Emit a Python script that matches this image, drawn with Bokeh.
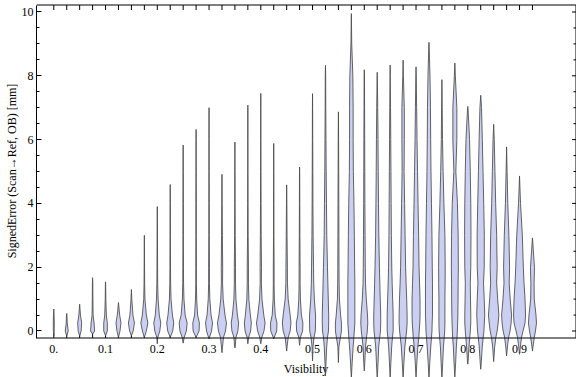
from bokeh.plotting import figure
from bokeh.models import FixedTicker, Range1d, Span
from bokeh.core.properties import value
from bokeh.embed import file_html
from bokeh.resources import INLINE

# ---------------- data ----------------
visibility = [0.0, 0.025, 0.05, 0.075, 0.1, 0.125, 0.15, 0.175, 0.2, 0.225,
              0.25, 0.275, 0.3, 0.325, 0.35, 0.375, 0.4, 0.425, 0.45, 0.475,
              0.5, 0.525, 0.55, 0.575, 0.6, 0.625, 0.65, 0.675, 0.7, 0.725,
              0.75, 0.775, 0.8, 0.825, 0.85, 0.875, 0.9, 0.925]
err_max = [0.69, 0.55, 0.84, 1.67, 1.54, 0.89, 1.30, 3.0, 3.90, 4.59,
           5.83, 6.32, 7.0, 4.91, 5.92, 7.08, 7.45, 5.88, 4.58, 5.14,
           7.44, 8.33, 6.87, 9.95, 8.19, 8.11, 8.34, 8.49, 8.28, 9.05,
           7.88, 8.40, 7.04, 7.39, 6.48, 5.77, 4.86, 2.92]
err_min = [-0.15, -0.15, -0.15, -0.1, -0.15, -0.2, -0.15, -0.2, -0.4, -0.2,
           -0.38, -0.2, -0.25, -0.68, -0.53, -0.4, -0.4, -0.25, -0.63, -0.45,
           -0.94, -1.41, -0.99, -1.5, -1.25, -1.5, -1.5, -1.5, -1.45, -1.5,
           -1.5, -1.44, -1.04, -1.2, -0.96, -0.78, -0.73, -0.63]
# error levels at which the density (violin half-width) was read
levels = [-1.0, -0.5, -0.2, 0.0, 0.25, 0.5, 1.0, 1.5, 2.0, 3.0, 4.0, 5.0, 6.0, 7.0, 8.0, 9.0]
density = [
    [0, 0, 0, 0.4, 0.5, 0.3, 0, 0, 0, 0, 0, 0, 0, 0, 0, 0],
    [0, 0, 0, 1.5, 0.5, 0.2, 0, 0, 0, 0, 0, 0, 0, 0, 0, 0],
    [0, 0, 0, 1.5, 2.0, 0.8, 0, 0, 0, 0, 0, 0, 0, 0, 0, 0],
    [0, 0, 0, 2.0, 1.5, 0.5, 0.3, 0.2, 0, 0, 0, 0, 0, 0, 0, 0],
    [0, 0, 0, 1.8, 1.8, 0.8, 0.3, 0.1, 0, 0, 0, 0, 0, 0, 0, 0],
    [0, 0, 0.3, 1.5, 2.5, 1.2, 0, 0, 0, 0, 0, 0, 0, 0, 0, 0],
    [0, 0, 0, 1.8, 3.0, 1.5, 0.4, 0, 0, 0, 0, 0, 0, 0, 0, 0],
    [0, 0, 0.3, 2.0, 3.5, 2.0, 0.6, 0.3, 0.2, 0, 0, 0, 0, 0, 0, 0],
    [0, 0, 0.5, 2.5, 3.5, 2.0, 0.8, 0.4, 0.3, 0.2, 0, 0, 0, 0, 0, 0],
    [0, 0, 0.3, 2.5, 3.5, 2.2, 0.8, 0.4, 0.3, 0.2, 0.1, 0, 0, 0, 0, 0],
    [0, 0, 1.0, 3.2, 4.0, 2.0, 0.8, 0.4, 0.3, 0.2, 0.2, 0.1, 0, 0, 0, 0],
    [0, 0, 0.5, 3.0, 3.3, 1.5, 0.6, 0.3, 0.3, 0.2, 0.2, 0.1, 0.1, 0, 0, 0],
    [0, 0, 0.5, 2.5, 3.5, 2.0, 0.8, 0.4, 0.4, 0.2, 0.2, 0.1, 0.1, 0, 0, 0],
    [0, 0.5, 1.5, 3.5, 4.5, 3.0, 1.2, 0.6, 0.7, 0.4, 0.2, 0, 0, 0, 0, 0],
    [0, 0.3, 1.0, 3.0, 3.7, 2.5, 1.0, 0.6, 0.6, 0.3, 0.2, 0.1, 0, 0, 0, 0],
    [0, 0, 0.8, 2.8, 3.5, 2.5, 1.0, 0.6, 0.6, 0.3, 0.2, 0.1, 0.1, 0.1, 0, 0],
    [0, 0, 1.0, 3.2, 4.3, 3.0, 1.2, 0.6, 0.7, 0.4, 0.3, 0.2, 0.1, 0.1, 0, 0],
    [0, 0, 0.5, 3.0, 3.2, 1.5, 0.6, 0.4, 0.4, 0.2, 0.2, 0.1, 0, 0, 0, 0],
    [0, 0.4, 1.5, 3.5, 4.3, 3.5, 1.5, 0.8, 0.7, 0.4, 0.2, 0, 0, 0, 0, 0],
    [0, 0, 0.8, 3.0, 3.3, 1.8, 0.8, 0.5, 0.5, 0.3, 0.2, 0.1, 0, 0, 0, 0],
    [0, 0.5, 1.5, 2.8, 3.0, 3.0, 1.8, 1.2, 1.0, 0.6, 0.4, 0.3, 0.2, 0.1, 0, 0],
    [0.5, 1.2, 2.0, 3.0, 3.2, 3.2, 2.8, 2.4, 2.0, 1.3, 1.0, 0.7, 0.5, 0.3, 0.2, 0],
    [0, 0.5, 2.0, 3.0, 3.0, 2.2, 1.0, 0.7, 0.6, 0.5, 0.4, 0.3, 0.2, 0, 0, 0],
    [0.8, 1.8, 2.5, 3.0, 3.5, 3.5, 3.5, 3.5, 3.3, 3.0, 2.6, 2.0, 1.8, 1.8, 1.5, 0.4],
    [0.5, 1.2, 2.2, 3.0, 3.5, 3.2, 2.0, 1.2, 1.0, 0.8, 0.6, 0.5, 0.4, 0.3, 0.1, 0],
    [0.8, 1.5, 2.5, 3.2, 3.5, 3.5, 3.0, 2.6, 2.2, 1.6, 1.3, 1.0, 0.8, 0.5, 0.1, 0],
    [0.7, 1.5, 2.3, 3.0, 3.0, 3.0, 2.5, 2.0, 1.6, 1.2, 1.0, 0.8, 0.6, 0.4, 0.1, 0],
    [0.8, 1.8, 2.8, 3.5, 4.0, 4.0, 3.6, 3.0, 2.5, 2.0, 1.5, 1.0, 1.2, 1.2, 0.3, 0],
    [0.8, 1.8, 2.8, 3.2, 3.8, 4.0, 4.0, 3.5, 3.0, 2.6, 2.0, 1.5, 1.0, 0.6, 0.2, 0],
    [0.8, 1.8, 2.5, 3.0, 3.2, 3.5, 3.5, 3.5, 3.3, 3.0, 2.5, 2.0, 1.7, 1.5, 1.0, 0.1],
    [0.8, 1.5, 2.3, 2.8, 3.0, 3.0, 3.0, 3.2, 3.3, 3.0, 2.0, 1.2, 0.6, 0.3, 0, 0],
    [0.8, 1.5, 2.2, 2.5, 2.8, 3.0, 3.2, 3.3, 3.5, 3.3, 2.6, 1.0, 2.0, 2.0, 0.5, 0],
    [0.2, 1.2, 2.0, 2.5, 3.0, 3.0, 2.7, 2.5, 3.0, 3.2, 3.0, 2.5, 1.8, 0.2, 0, 0],
    [0.5, 1.5, 2.5, 3.2, 3.6, 4.0, 3.5, 2.8, 3.5, 3.6, 3.0, 2.3, 1.6, 0.8, 0, 0],
    [0, 1.0, 2.2, 3.5, 4.5, 5.2, 4.0, 3.0, 3.5, 3.0, 2.0, 1.3, 0.6, 0, 0, 0],
    [0, 0.8, 2.0, 3.5, 4.5, 5.0, 3.6, 2.6, 3.0, 2.3, 1.2, 0.5, 0, 0, 0, 0],
    [0, 0.8, 2.0, 3.5, 5.5, 6.0, 5.5, 4.5, 3.8, 2.8, 1.0, 0, 0, 0, 0, 0],
    [0, 0.5, 1.8, 3.0, 4.0, 3.5, 1.8, 1.6, 2.0, 0, 0, 0, 0, 0, 0, 0],
]
y_major = [0, 2, 4, 6, 8, 10]
y_minor = [0.5, 1, 1.5, 2.5, 3, 3.5, 4.5, 5, 5.5, 6.5, 7, 7.5, 8.5, 9, 9.5]
x_label_pos = [0.0, 0.1, 0.2, 0.3, 0.4, 0.5, 0.6, 0.7, 0.8, 0.9]
x_labels = ["0.", "0.1", "0.2", "0.3", "0.4", "0.5", "0.6", "0.7", "0.8", "0.9"]
y_title = "SignedError (Scan\u2192Ref, OB) [mm]"

# ---------------- geometry / styling ----------------
FONT = "Liberation Serif"
FS = "12px"
PX_X = 517.5          # pixels per x unit
PX_Y = 31.9           # pixels per y unit
X0 = -0.0334          # x at frame left (pixel 36)
X1 = X0 + 540 / PX_X  # x at frame right (pixel 576)
XR = X0 + 539.5 / PX_X  # right frame line
YT = 10.3605          # y at top of canvas
YB = YT - 377 / PX_Y  # y at bottom of canvas
Y_HI = YT - 4.5 / PX_Y    # top frame line
Y_LO = YT - 337.5 / PX_Y  # bottom frame line
WIDTH_SCALE = 1.0 / PX_X  # density unit (px half-width) -> x units

p = figure(width=576, height=377,
           x_range=Range1d(X0, X1), y_range=Range1d(YB, YT),
           x_axis_location=None, output_backend="svg", toolbar_location=None,
           min_border_left=36, min_border_right=0, min_border_top=0, min_border_bottom=0)
p.outline_line_color = None
p.grid.visible = False
p.background_fill_color = "white"
p.border_fill_color = "white"

# left axis (frame line + ticks + labels + title)
ya = p.yaxis[0]
ya.bounds = (Y_LO, Y_HI)
ya.ticker = FixedTicker(ticks=y_major, minor_ticks=y_minor)
ya.axis_line_color = "black"
ya.major_tick_in = 5
ya.major_tick_out = 0
ya.minor_tick_in = 3
ya.minor_tick_out = 0
ya.major_label_text_font = FONT
ya.major_label_text_font_size = FS
ya.major_label_text_color = "black"
ya.major_label_standoff = 3
# the title is centred on the whole frame (which reaches below the x axis);
# leading no-break spaces lift the visible text to the middle of the frame box
ya.axis_label = "\u00a0" * 12 + y_title
ya.axis_label_text_font = FONT
ya.axis_label_text_font_style = "normal"
ya.axis_label_text_font_size = FS
ya.axis_label_text_color = "black"
ya.axis_label_standoff = 0

# remaining frame lines
p.add_layout(Span(location=Y_LO, dimension="width", line_color="black", line_width=1))
p.segment(x0=[X0], x1=[XR], y0=[Y_HI], y1=[Y_HI], line_color="black", line_width=1)
p.segment(x0=[XR], x1=[XR], y0=[Y_LO], y1=[Y_HI], line_color="black", line_width=1)

# ticks: top and bottom at every violin, right mirrors the left
n = len(visibility)
p.segment(x0=visibility, x1=visibility, y0=[Y_LO] * n, y1=[Y_LO + 5 / PX_Y] * n,
          line_color="black", line_width=1)
p.segment(x0=visibility, x1=visibility, y0=[Y_HI] * n, y1=[Y_HI - 5 / PX_Y] * n,
          line_color="black", line_width=1)
p.segment(x0=[XR - 4 / PX_X] * len(y_major), x1=[XR] * len(y_major), y0=y_major, y1=y_major,
          line_color="black", line_width=1)
p.segment(x0=[XR - 2.5 / PX_X] * len(y_minor), x1=[XR] * len(y_minor), y0=y_minor, y1=y_minor,
          line_color="black", line_width=1)

# x tick labels and title
p.text(x=x_label_pos, y=[YT - 348 / PX_Y] * len(x_label_pos), text=x_labels,
       text_align="center", text_baseline="middle",
       text_font=value(FONT), text_font_size=FS, text_color="black")
p.text(x=[X0 + (305.5 - 36) / PX_X], y=[YT - 368 / PX_Y], text=["Visibility"],
       text_align="center", text_baseline="middle",
       text_font=value(FONT), text_font_size=FS, text_color="black")

# violins
xs_all, ys_all = [], []
for c, lo, hi, row in zip(visibility, err_min, err_max, density):
    prof = [(lo, 0.0)] + [(lv, d) for lv, d in zip(levels, row) if lo < lv < hi] + [(hi, 0.0)]
    right_x = [c + d * WIDTH_SCALE for _, d in prof]
    left_x = [c - d * WIDTH_SCALE for _, d in prof]
    yy = [v for v, _ in prof]
    xs_all.append(right_x + left_x[::-1])
    ys_all.append(yy + yy[::-1])

p.patches(xs=xs_all, ys=ys_all, fill_color="#cbd0f3", fill_alpha=1.0,
          line_color="#4a4a4a", line_width=1, line_alpha=0.85, line_join="round")

open("out.html", "w").write(file_html(p, INLINE))
